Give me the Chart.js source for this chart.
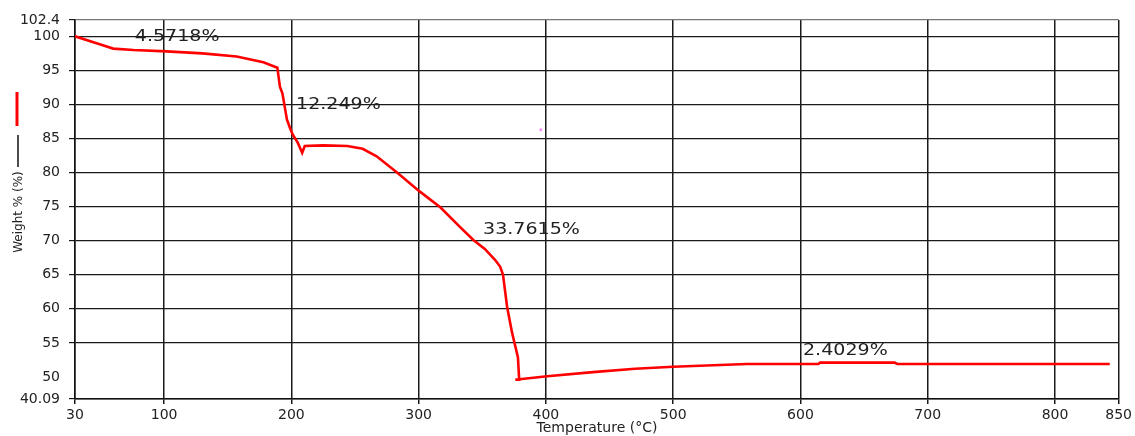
<!DOCTYPE html>
<html>
<head>
<meta charset="utf-8">
<script src="https://cdn.jsdelivr.net/npm/chart.js@4/dist/chart.umd.min.js"></script>
<style>
  html, body { margin: 0; padding: 0; background: #fff; }
  #wrap { width: 1135px; height: 436px; position: relative; }
</style>
</head>
<body>
<div id="wrap"><canvas id="tga"></canvas></div>
<script>
// TGA curve: temperature (°C) and weight (%)
const temps = [30, 50, 60, 76, 102, 130, 157, 178, 189, 191, 193, 196.5, 199, 201, 205, 208.5,
  210.5, 225, 244, 256, 267, 283, 301, 317, 332, 343, 352, 360, 364, 366.3, 369.5, 373.4, 378,
  379, 376, 381, 401, 437, 470, 500, 558, 614, 615.5, 674, 676, 843];
const weights = [100, 98.8, 98.2, 98.0, 97.8, 97.5, 97.05, 96.2, 95.4, 92.6, 91.6, 87.8, 86.5, 85.6, 84.4, 82.9,
  83.9, 84.0, 83.9, 83.5, 82.4, 80.0, 77.2, 74.9, 72.1, 70.1, 68.8, 67.2, 66.2, 65.0, 60.3, 56.5, 52.9,
  49.6, 49.6, 49.7, 50.1, 50.7, 51.2, 51.5, 51.9, 51.9, 52.1, 52.1, 51.9, 51.9];

// stray pink pixel in the original
const dotT = [396];
const dotW = [86.3];

// axis ticks
const xTicks = [30, 100, 200, 300, 400, 500, 600, 700, 800, 850];
const yTicks = [46.76, 50, 55, 60, 65, 70, 75, 80, 85, 90, 95, 100, 102.4];
const yTickLabels = ['40.09', '50', '55', '60', '65', '70', '75', '80', '85', '90', '95', '100', '102.4'];

// step annotations (text, anchored at temperature / weight)
const annoText = ['4.5718%', '12.249%', '33.7615%', '2.4029%'];
const annoT = [77, 203.7, 350.6, 602];
const annoW = [99.85, 89.85, 71.5, 53.8];

const FONT = '"DejaVu Sans", sans-serif';

const overlay = {
  id: 'overlay',
  afterDatasetsDraw(chart) {
    const ctx = chart.ctx;
    const xs = chart.scales.x, ys = chart.scales.y;
    ctx.save();
    ctx.fillStyle = '#222';
    ctx.font = '15px ' + FONT;
    ctx.textBaseline = 'middle';
    ctx.textAlign = 'left';
    annoText.forEach((t, i) => {
      ctx.save();
      ctx.translate(xs.getPixelForValue(annoT[i]), ys.getPixelForValue(annoW[i]));
      ctx.scale(1.27, 1);
      ctx.fillText(t, 0, 0);
      ctx.restore();
    });

    // axis titles
    ctx.font = '14px ' + FONT;
    ctx.textAlign = 'center';
    ctx.fillText('Temperature (°C)', 597, 428);

    ctx.save();
    ctx.translate(19, 212);
    ctx.rotate(-Math.PI / 2);
    ctx.font = '12px ' + FONT;
    ctx.fillText('Weight % (%)', 0, 0);
    ctx.restore();

    // legend swatch next to the y title
    ctx.lineCap = 'butt';
    ctx.strokeStyle = '#ff0000';
    ctx.lineWidth = 3;
    ctx.beginPath(); ctx.moveTo(17, 92); ctx.lineTo(17, 126); ctx.stroke();
    ctx.strokeStyle = '#111';
    ctx.lineWidth = 1.5;
    ctx.beginPath(); ctx.moveTo(18, 135); ctx.lineTo(18, 167); ctx.stroke();
    ctx.restore();
  }
};

new Chart(document.getElementById('tga'), {
  type: 'line',
  data: {
    datasets: [{
      label: 'Weight %',
      data: temps.map((t, i) => ({ x: t, y: weights[i] })),
      borderColor: '#ff0000',
      borderWidth: 2.6,
      pointRadius: 0,
      tension: 0,
      fill: false
    }, {
      label: 'dot',
      data: dotT.map((t, i) => ({ x: t, y: dotW[i] })),
      showLine: false,
      pointRadius: 1.5,
      pointBorderWidth: 0,
      pointBackgroundColor: '#ff8cff'
    }]
  },
  options: {
    responsive: true,
    maintainAspectRatio: false,
    animation: false,
    layout: { padding: { top: 20, right: 16, left: 0, bottom: 0 } },
    plugins: { legend: { display: false }, tooltip: { enabled: false } },
    scales: {
      x: {
        type: 'linear',
        min: 30,
        max: 850,
        afterBuildTicks: s => { s.ticks = xTicks.map(v => ({ value: v })); },
        afterFit: s => { s.height = 37; },
        border: { color: '#111', width: 1.5 },
        grid: { color: '#1a1a1a', lineWidth: 1.5, tickLength: 5 },
        ticks: { autoSkip: false, maxRotation: 0, padding: 3, color: '#222', font: { family: FONT, size: 14 } }
      },
      y: {
        type: 'linear',
        min: 46.76,
        max: 102.4,
        afterBuildTicks: s => { s.ticks = yTicks.map(v => ({ value: v })); },
        afterFit: s => { s.width = 75; },
        border: { color: '#111', width: 1.5 },
        grid: {
          color: c => c.tick.value === 50 ? 'rgba(0,0,0,0)' : (c.tick.value === 102.4 ? '#777' : '#1a1a1a'),
          tickColor: c => c.tick.value === 50 ? 'rgba(0,0,0,0)' : '#1a1a1a',
          lineWidth: 1.2,
          tickLength: 6
        },
        ticks: {
          autoSkip: false,
          padding: 9,
          color: '#222',
          font: { family: FONT, size: 14 },
          callback: (v, i) => yTickLabels[i]
        }
      }
    }
  },
  plugins: [overlay]
});
</script>
</body>
</html>
